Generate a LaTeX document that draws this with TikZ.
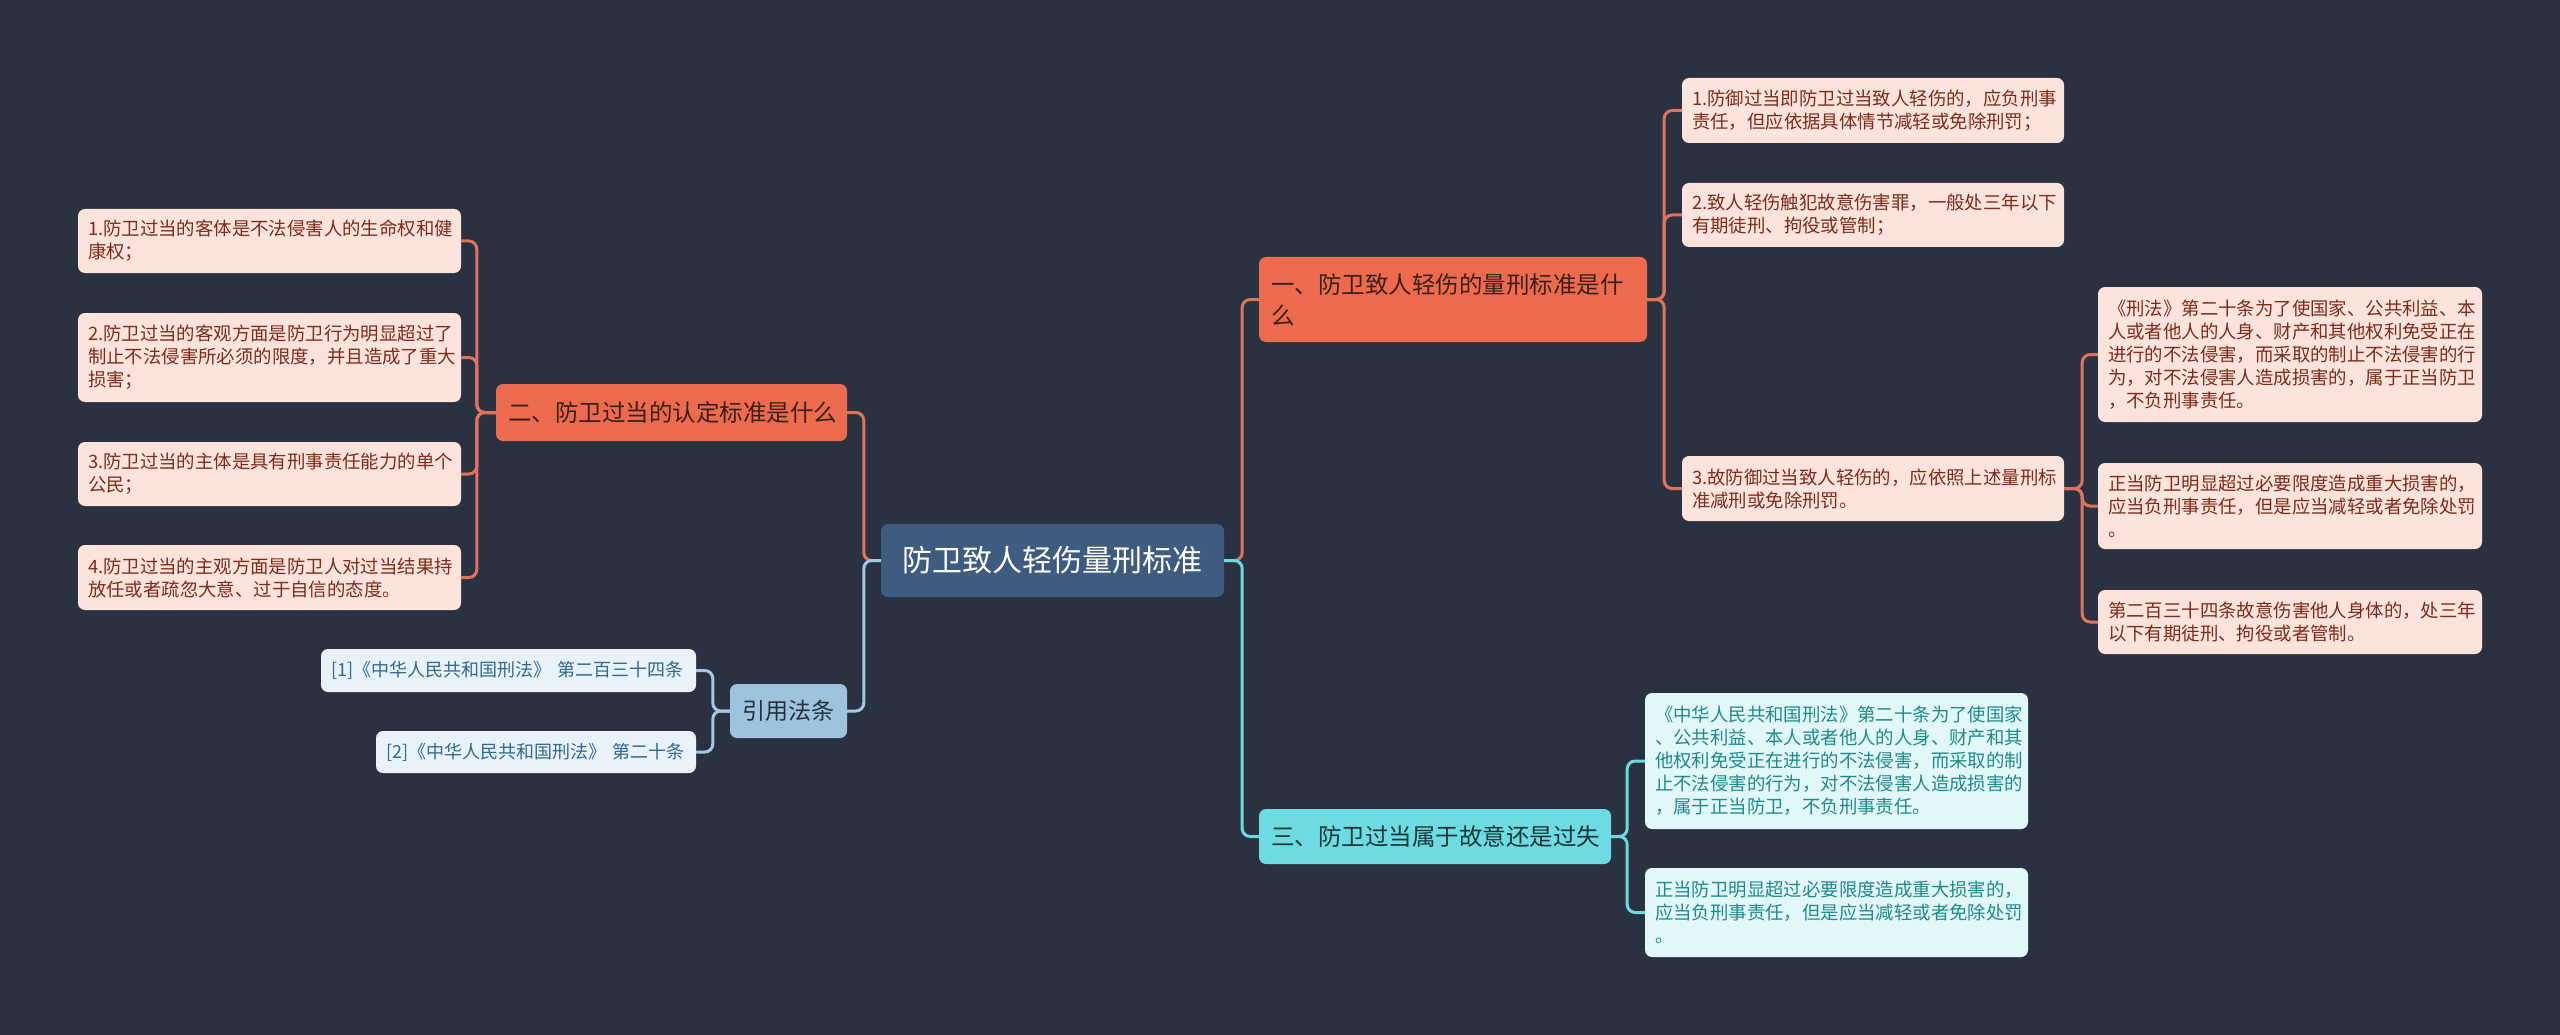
\documentclass[tikz,border=0pt]{standalone}
\usepackage{fontspec}
\setmainfont{Noto Sans CJK SC}
\usepackage{tikz}
\usetikzlibrary{positioning}
\definecolor{bgnavy}{HTML}{2A3241}
\definecolor{rootblue}{HTML}{3E5B80}
\definecolor{orfill}{HTML}{EC6B4E}
\definecolor{orline}{HTML}{E0735B}
\definecolor{orleaffill}{HTML}{FCE4DC}
\definecolor{orleaftext}{HTML}{7D2B1C}
\definecolor{brtext}{HTML}{3A2018}
\definecolor{blfill}{HTML}{9DC3DD}
\definecolor{blline}{HTML}{A3C9E2}
\definecolor{blleaffill}{HTML}{E8F2F8}
\definecolor{blleaftext}{HTML}{2E6A92}
\definecolor{bltext}{HTML}{243240}
\definecolor{cyfill}{HTML}{6CDCE2}
\definecolor{cyline}{HTML}{6CD8E0}
\definecolor{cyleaffill}{HTML}{E2F7F8}
\definecolor{cyleaftext}{HTML}{1F8A8C}
\definecolor{cytext}{HTML}{1A3538}

\tikzset{
  box/.style={rounded corners=7pt, inner ysep=0pt, inner xsep=10pt, align=left},
  leaf/.style={box, font=\fontsize{18.4}{23}\selectfont},
  orleaf/.style={leaf, fill=orleaffill, text=orleaftext, text width=#1},
  blleaf/.style={leaf, font=\fontsize{18}{23}\selectfont, fill=blleaffill, text=blleaftext, text width=#1},
  cyleaf/.style={leaf, fill=cyleaffill, text=cyleaftext, text width=#1},
  branch/.style={box, inner xsep=12pt, font=\fontsize{23.5}{31}\selectfont},
  orbranch/.style={branch, fill=orfill, text=brtext, text width=#1},
  cybranch/.style={branch, fill=cyfill, text=cytext, text width=#1},
  link/.style={line width=3pt, rounded corners=8pt},
}

\begin{document}
\begin{tikzpicture}[x=1pt, y=-1pt]
\fill[bgnavy] (0,0) rectangle (2560,1035);
\useasboundingbox (0,0) rectangle (2560,1035);

\node[box, fill=rootblue, text=white, align=center, minimum width=343, minimum height=73,
  font=\fontsize{30}{36}\selectfont] (root) at (1052.5,560.5) {防卫致人轻伤量刑标准};

\node[orbranch=327, minimum height=57] (fanghuan) at (671.5,412.5) {二、防卫过当的认定标准是什么};
\node[orleaf=363, minimum height=64] (l1) at (269.5,241) {1.防卫过当的客体是不法侵害人的生命权和健\\康权；};
\node[orleaf=363, minimum height=89] (l2) at (269.5,357.5) {2.防卫过当的客观方面是防卫行为明显超过了\\制止不法侵害所必须的限度，并且造成了重大\\损害；};
\node[orleaf=363, minimum height=64] (l3) at (269.5,474) {3.防卫过当的主体是具有刑事责任能力的单个\\公民；};
\node[orleaf=363, minimum height=65] (l4) at (269.5,577.5) {4.防卫过当的主观方面是防卫人对过当结果持\\放任或者疏忽大意、过于自信的态度。};

\node[box, fill=blfill, text=bltext, align=center, minimum width=117, minimum height=54,
  font=\fontsize{23}{28}\selectfont] (yinyong) at (788.5,711) {引用法条};
\node[blleaf=355, minimum height=43] (c1) at (508.5,670.5) {[1]《中华人民共和国刑法》~第二百三十四条};
\node[blleaf=300, minimum height=42] (c2) at (536,752) {[2]《中华人民共和国刑法》~第二十条};

\node[orbranch=364, minimum height=85] (liangxing) at (1453,299.5) {一、防卫致人轻伤的量刑标准是什\\么};
\node[orleaf=362, minimum height=65] (r1) at (1873,110.5) {1.防御过当即防卫过当致人轻伤的，应负刑事\\责任，但应依据具体情节减轻或免除刑罚；};
\node[orleaf=362, minimum height=64] (r2) at (1873,215) {2.致人轻伤触犯故意伤害罪，一般处三年以下\\有期徒刑、拘役或管制；};
\node[orleaf=362, minimum height=65] (r3) at (1873,488.5) {3.故防御过当致人轻伤的，应依照上述量刑标\\准减刑或免除刑罚。};
\node[orleaf=364, minimum height=135] (f1) at (2290,354.5) {《刑法》第二十条为了使国家、公共利益、本\\人或者他人的人身、财产和其他权利免受正在\\进行的不法侵害，而采取的制止不法侵害的行\\为，对不法侵害人造成损害的，属于正当防卫\\，不负刑事责任。};
\node[orleaf=364, minimum height=86] (f2) at (2290,506) {正当防卫明显超过必要限度造成重大损害的，\\应当负刑事责任，但是应当减轻或者免除处罚\\。};
\node[orleaf=364, minimum height=64] (f3) at (2290,622) {第二百三十四条故意伤害他人身体的，处三年\\以下有期徒刑、拘役或者管制。};

\node[cybranch=328, minimum height=55] (guoshi) at (1435,836.5) {三、防卫过当属于故意还是过失};
\node[cyleaf=363, minimum height=136] (b1) at (1836.5,761) {《中华人民共和国刑法》第二十条为了使国家\\、公共利益、本人或者他人的人身、财产和其\\他权利免受正在进行的不法侵害，而采取的制\\止不法侵害的行为，对不法侵害人造成损害的\\，属于正当防卫，不负刑事责任。};
\node[cyleaf=363, minimum height=89] (b2) at (1836.5,912.5) {正当防卫明显超过必要限度造成重大损害的，\\应当负刑事责任，但是应当减轻或者免除处罚\\。};

\draw[link, orline] (root.west) -- ++(-17,0) |- (fanghuan.east);
\draw[link, blline] (root.west) -- ++(-17,0) |- (yinyong.east);
\draw[link, orline] (root.east) -- ++(18,0) |- (liangxing.west);
\draw[link, cyline] (root.east) -- ++(18,0) |- (guoshi.west);

\foreach \n in {l1,l2,l3,l4}
  \draw[link, orline] (fanghuan.west) -- ++(-19,0) |- (\n.east);
\foreach \n in {c1,c2}
  \draw[link, blline] (yinyong.west) -- ++(-17,0) |- (\n.east);
\foreach \n in {r1,r2,r3}
  \draw[link, orline] (liangxing.east) -- ++(17,0) |- (\n.west);
\foreach \n in {f1,f2,f3}
  \draw[link, orline] (r3.east) -- ++(18,0) |- (\n.west);
\foreach \n in {b1,b2}
  \draw[link, cyline] (guoshi.east) -- ++(16,0) |- (\n.west);
\end{tikzpicture}
\end{document}
